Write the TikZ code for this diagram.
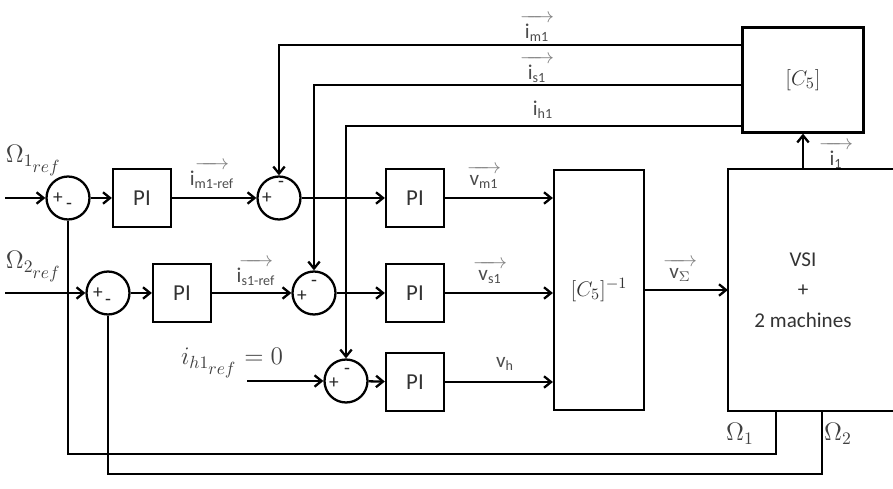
\documentclass[tikz,border=0pt]{standalone}
\usepackage{amsmath}
\usepackage{fontspec}
\setmainfont{Carlito}
\usetikzlibrary{arrows.meta}

\tikzset{
  blk/.style={draw,line width=1.3pt,minimum width=1.16cm,minimum height=1.16cm,
    text=black!80,font=\fontsize{13}{15}\selectfont},
  sumc/.style={draw,circle,line width=1.3pt,minimum size=0.86cm,inner sep=0pt},
  sgn/.style={inner sep=0pt,text=black!85,font=\fontsize{11}{12}\selectfont},
  lbl/.style={inner sep=0pt,text=black!70,font=\fontsize{12}{14}\selectfont},
  mlbl/.style={inner sep=1pt,text=black!75,font=\fontsize{14}{16}\selectfont},
}
\newcommand{\sigv}[2]{\shortstack{\textcolor{black!50}{$\xrightarrow{\hspace{13pt}}$}\\[-2pt]#1$_{\text{#2}}$}}

\begin{document}
\begin{tikzpicture}[x=0.02cm,y=-0.02cm,line width=1.3pt,>={Straight Barb[length=4pt,width=6.5pt]}]
  \useasboundingbox (0,0) rectangle (893,489);
  % 输入
  \coordinate (in1) at (5,198);
  \coordinate (in2) at (5,293);
  \coordinate (in3) at (247,381);
  % 速度环
  \node[sumc] (sOm1) at (68,198) {};
  \node[sumc] (sOm2) at (108,293) {};
  \node[blk] (piOm1) at (142,198) {PI};
  \node[blk] (piOm2) at (182,293) {PI};
  % 电流环
  \node[sumc] (sM) at (279,198) {};
  \node[sumc] (sS) at (314,293) {};
  \node[sumc] (sH) at (346,381) {};
  \node[blk] (piM) at (415,198) {PI};
  \node[blk] (piS) at (415,293) {PI};
  \node[blk] (piH) at (415,382) {PI};
  % 矩阵和逆变器
  \node[blk,minimum width=1.8cm,minimum height=4.8cm] (cinv) at (599,290) {$[C_5]^{-1}$};
  \node[blk,draw=none,minimum width=2.96cm,minimum height=4.8cm,align=center,
    font=\fontsize{12}{17.5}\selectfont] (vsi) at (803,290) {VSI\\+\\2 machines};
  \draw (vsi.north west -| 893,0) -| (vsi.south west) -- (vsi.south west -| 893,0);
  \node[blk,minimum width=2.42cm,minimum height=2.1cm] (cfive) at (803,80) {$[C_5]$};
  % 加减号
  \node[sgn] (p1) at (58,198) {+};
  \node[sgn] (m1) at (69,206) {-};
  \node[sgn] (p2) at (98,293) {+};
  \node[sgn] (m2) at (108,302) {-};
  \node[sgn] (pM) at (267,198) {+};
  \node[sgn] (mM) at (281,184) {-};
  \node[sgn] (pS) at (302,296) {+};
  \node[sgn] (mS) at (314,283) {-};
  \node[sgn] (pH) at (334,383) {+};
  \node[sgn] (mH) at (347,371) {-};
  % 前向通道
  \draw[->] (in1) -- (sOm1);
  \draw[->] (sOm1) -- (piOm1);
  \draw[->] (piOm1) -- (sM);
  \draw[->] (sM) -- (piM);
  \draw[->] (piM) -- (piM -| cinv.west);
  \draw[->] (in2) -- (sOm2);
  \draw[->] (sOm2) -- (piOm2);
  \draw[->] (piOm2) -- (sS);
  \draw[->] (sS) -- (piS);
  \draw[->] (piS) -- (piS -| cinv.west);
  \draw[->] (in3) -- (sH);
  \draw[->] (sH) -- (piH);
  \draw[->] (piH) -- (piH -| cinv.west);
  \draw[->] (cinv.east) -- (vsi.west);
  \draw[->] (cfive.south |- vsi.north) -- (cfive.south);
  % 电流反馈
  \draw[->] (cfive.west |- 0,45) -| (sM);
  \draw[->] (cfive.west |- 0,85) -| (sS);
  \draw[->] (cfive.west |- 0,126) -| (sH);
  % 速度反馈
  \draw (vsi.south -| 776,0) -- ++(0,43) -| (sOm1);
  \draw (vsi.south -| 822,0) -- ++(0,63) -| (sOm2);
  % 标注
  \node[mlbl,anchor=west] (lOm1) at (3,161) {$\Omega_{1_{\scriptstyle ref}}$};
  \node[mlbl,anchor=west] (lOm2) at (3,267) {$\Omega_{2_{\scriptstyle ref}}$};
  \node[mlbl] (lih) at (232,363) {$i_{h1_{\scriptstyle ref}} = 0$};
  \node[lbl] (limr) at (212,172) {\sigv{i}{m1-ref}};
  \node[lbl] (lisr) at (256,269) {\sigv{i}{s1-ref}};
  \node[lbl] (lvm) at (484,174) {\sigv{v}{m1}};
  \node[lbl] (lvs) at (490,269) {\sigv{v}{s1}};
  \node[lbl] (lvh) at (505,364) {v$_{\text{h}}$};
  \node[lbl] (lim) at (537,25) {\sigv{i}{m1}};
  \node[lbl] (lis) at (537,66) {\sigv{i}{s1}};
  \node[lbl] (lihf) at (543,110) {i$_{\text{h1}}$};
  \node[lbl] (li1) at (836,152) {\sigv{i}{1}};
  \node[lbl] (lvsig) at (680,267) {\sigv{v}{$\Sigma$}};
  \node[mlbl] (lO1) at (740,434) {$\Omega_1$};
  \node[mlbl] (lO2) at (838,434) {$\Omega_2$};
\end{tikzpicture}
\end{document}
